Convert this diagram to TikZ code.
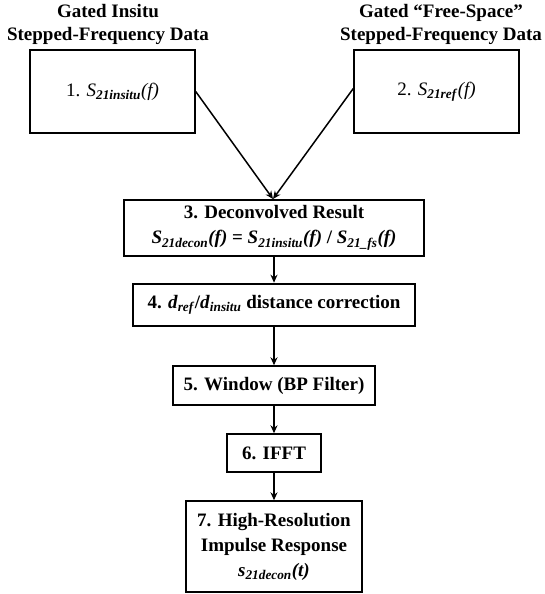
\documentclass[tikz,border=0pt]{standalone}
\usepackage{fontspec}
\setmainfont{Liberation Serif}
\usetikzlibrary{arrows.meta}
\tikzset{
  box/.style={draw, line width=1.4pt, align=center, inner sep=0pt, font=\fontsize{19}{25}\selectfont\bfseries},
  regbox/.style={box, font=\fontsize{19}{25}\selectfont},
  thickbox/.style={box, line width=2.6pt},
  hdr/.style={align=center, inner sep=0pt, font=\fontsize{19}{23}\selectfont\bfseries},
  arr/.style={line width=1.5pt, -{Stealth[length=8pt,width=7pt]}}
}
\newcommand{\sbx}[1]{\textsubscript{\textbf{\textit{#1}}}}
\begin{document}
\begin{tikzpicture}[x=1pt,y=-1pt]
\useasboundingbox (0,0) rectangle (545,594);
\node[hdr] (h1) at (108,24) {Gated Insitu\\Stepped-Frequency Data};
\node[hdr] (h2) at (441,24) {Gated ``Free-Space''\\Stepped-Frequency Data};
\node[regbox, minimum width=165pt, minimum height=83pt] (b1) at (112.5,91.5) {1. \textit{S}\sbx{21insitu}\textit{(f)}};
\node[regbox, minimum width=165pt, minimum height=83pt] (b2) at (436.5,91.5) {2. \textit{S}\sbx{21ref}\textit{(f)}};
\node[box, minimum width=300pt, minimum height=56pt] (b3) at (274,228) {3. Deconvolved Result\\\textit{S}\sbx{21decon}\textit{(f)} = \textit{S}\sbx{21insitu}\textit{(f)} / \textit{S}\sbx{21\_fs}\textit{(f)}};
\node[thickbox, minimum width=282pt, minimum height=42pt] (b4) at (274,305) {4. \textit{d}\sbx{ref}/\textit{d}\sbx{insitu} distance correction};
\node[box, minimum width=202pt, minimum height=39pt] (b5) at (274,385.5) {5. Window (BP Filter)};
\node[box, minimum width=94pt, minimum height=38pt] (b6) at (274,453) {6. IFFT};
\node[box, minimum width=176pt, minimum height=91pt] (b7) at (274,546.5) {7. High-Resolution\\Impulse Response\\\textit{s}\sbx{21decon}\textit{(t)}};
\coordinate (m) at (273,199);
\draw[arr] (b1.east) -- (m);
\draw[arr] (b2.west) ++(0,-3) -- (m);
\draw[arr] (b3.south) -- (b4.north);
\draw[arr] (b4.south) -- (b5.north);
\draw[arr] (b5.south) -- (b6.north);
\draw[arr] (b6.south) -- (b7.north);
\end{tikzpicture}
\end{document}
